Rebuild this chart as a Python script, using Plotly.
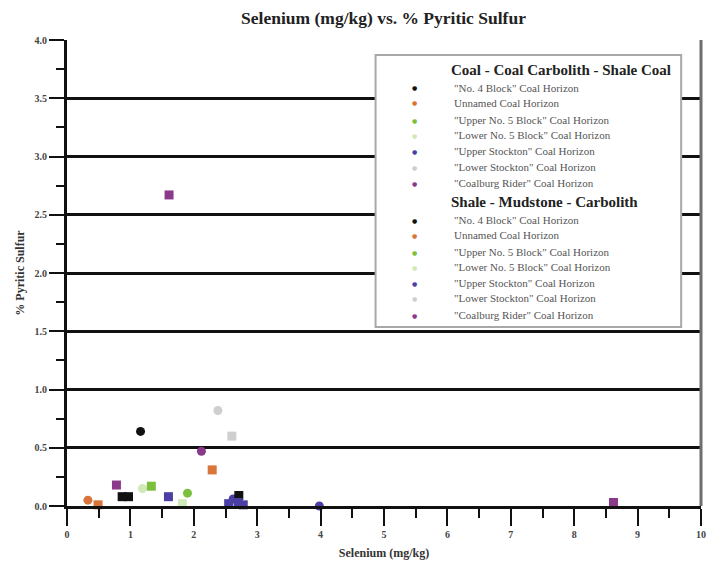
import plotly.graph_objects as go

# Horizon names and colours (shared by both lithology groups)
horizons = [
    '"No. 4 Block" Coal Horizon',
    'Unnamed Coal Horizon',
    '"Upper No. 5 Block" Coal Horizon',
    '"Lower No. 5 Block" Coal Horizon',
    '"Upper Stockton" Coal Horizon',
    '"Lower Stockton" Coal Horizon',
    '"Coalburg Rider" Coal Horizon',
]
colors = ["#111111", "#d9743a", "#7cbf3c", "#cfe9b8", "#4b3fa6", "#cfcfcf", "#8b3a8b"]

group_titles = ["Coal - Coal Carbolith - Shale Coal", "Shale - Mudstone - Carbolith"]

# Coal - Coal Carbolith - Shale Coal: selenium (mg/kg) and pyritic sulfur (%)
coal_se = [[1.16], [0.33], [1.90], [1.19], [2.62, 3.98], [2.38], [2.12]]
coal_ps = [[0.64], [0.05], [0.11], [0.15], [0.06, 0.00], [0.82], [0.47]]

# Shale - Mudstone - Carbolith
shale_se = [[0.87, 0.97, 2.71], [0.49, 2.29], [1.33], [1.82],
            [1.60, 2.55, 2.70, 2.78], [2.60], [1.61, 0.78, 8.62]]
shale_ps = [[0.08, 0.08, 0.09], [0.01, 0.31], [0.17], [0.02],
            [0.08, 0.02, 0.03, 0.01], [0.60], [2.67, 0.18, 0.03]]

x_ticks = list(range(0, 11))
y_ticks = [0.0, 0.5, 1.0, 1.5, 2.0, 2.5, 3.0, 3.5, 4.0]

SERIF = "Liberation Serif"

fig = go.Figure()
for se, ps, symbol in [(coal_se, coal_ps, "circle"), (shale_se, shale_ps, "square")]:
    for name, col, xs, ys in zip(horizons, colors, se, ps):
        fig.add_trace(go.Scatter(
            x=xs, y=ys, mode="markers", name=name, showlegend=False,
            cliponaxis=False,
            marker=dict(symbol=symbol, size=9, color=col, line=dict(width=0)),
        ))

# plot area in pixels: left 67, right 706, top 40, bottom 506
L, R, T, B = 67, 706, 40, 506


def px_x(p):
    return (p - L) / (R - L)


def px_y(p):
    return (B - p) / (B - T)


# hand-built legend panel
box_l, box_r, box_t, box_b = 378, 686, 55, 327
shapes = [
    dict(type="rect", xref="paper", yref="paper", layer="above",
         x0=px_x(box_l), x1=px_x(box_r), y0=px_y(box_b), y1=px_y(box_t),
         line=dict(color="#a8a8a8", width=2), fillcolor="white"),
    dict(type="line", xref="paper", yref="paper", layer="above",
         x0=1, x1=1, y0=0, y1=1, line=dict(color="#6e6e6e", width=3)),
]

annotations = []
row_y = [70, 88, 103, 120, 135, 151, 167, 183, 202, 220, 235, 252, 267, 283, 298, 315]
legend_symbols = ["●", "●"]
r = 0
for g, title in enumerate(group_titles):
    annotations.append(dict(
        xref="paper", yref="paper", x=px_x(452), y=px_y(row_y[r]),
        xanchor="left", yanchor="middle", showarrow=False,
        text="<b>" + title + "</b>", font=dict(family=SERIF, size=15, color="#222")))
    r += 1
    for name, col in zip(horizons, colors):
        annotations.append(dict(
            xref="paper", yref="paper", x=px_x(417), y=px_y(row_y[r]),
            xanchor="center", yanchor="middle", showarrow=False,
            text=legend_symbols[g], font=dict(family="DejaVu Sans", size=6, color=col)))
        annotations.append(dict(
            xref="paper", yref="paper", x=px_x(455), y=px_y(row_y[r]),
            xanchor="left", yanchor="middle", showarrow=False,
            text=name, font=dict(family=SERIF, size=11, color="#555")))
        r += 1

fig.update_layout(
    width=709, height=561,
    margin=dict(l=L, r=709 - R, t=T, b=561 - B),
    paper_bgcolor="white", plot_bgcolor="white",
    font=dict(family=SERIF, color="#222"),
    title=dict(text="<b>Selenium (mg/kg) vs. % Pyritic Sulfur</b>",
               x=px_x(386), xref="paper", y=1 - 18 / 561, yref="container",
               xanchor="center", yanchor="middle",
               font=dict(family=SERIF, size=17.5, color="#222")),
    shapes=shapes,
    annotations=annotations,
    showlegend=False,
)

fig.update_xaxes(
    range=[0, 10], tickvals=x_ticks, ticktext=[f"<b>{v}</b>" for v in x_ticks],
    ticklabeloverflow="allow",
    showgrid=False, zeroline=False,
    showline=True, linecolor="#111", linewidth=3,
    ticks="outside", ticklen=17, tickwidth=2, tickcolor="#111",
    minor=dict(dtick=0.5, ticks="outside", ticklen=9, tickwidth=2, tickcolor="#111", showgrid=False),
    tickfont=dict(family=SERIF, size=10, color="#444"),
    title=dict(text="<b>Selenium (mg/kg)</b>", font=dict(family=SERIF, size=12, color="#333"), standoff=10),
)
fig.update_yaxes(
    range=[0, 4], tickvals=y_ticks, ticktext=[f"<b>{v:.1f}</b>" for v in y_ticks],
    ticklabeloverflow="allow",
    showgrid=True, gridcolor="#111", gridwidth=3, zeroline=False,
    showline=True, linecolor="#111", linewidth=3,
    ticks="outside", ticklen=15, tickwidth=2, tickcolor="#111",
    minor=dict(dtick=0.25, ticks="outside", ticklen=8, tickwidth=2, tickcolor="#111", showgrid=False),
    tickfont=dict(family=SERIF, size=10, color="#444"),
    title=dict(text="<b>% Pyritic Sulfur</b>", font=dict(family=SERIF, size=12, color="#333"), standoff=8),
)

fig.write_html("out.html")
